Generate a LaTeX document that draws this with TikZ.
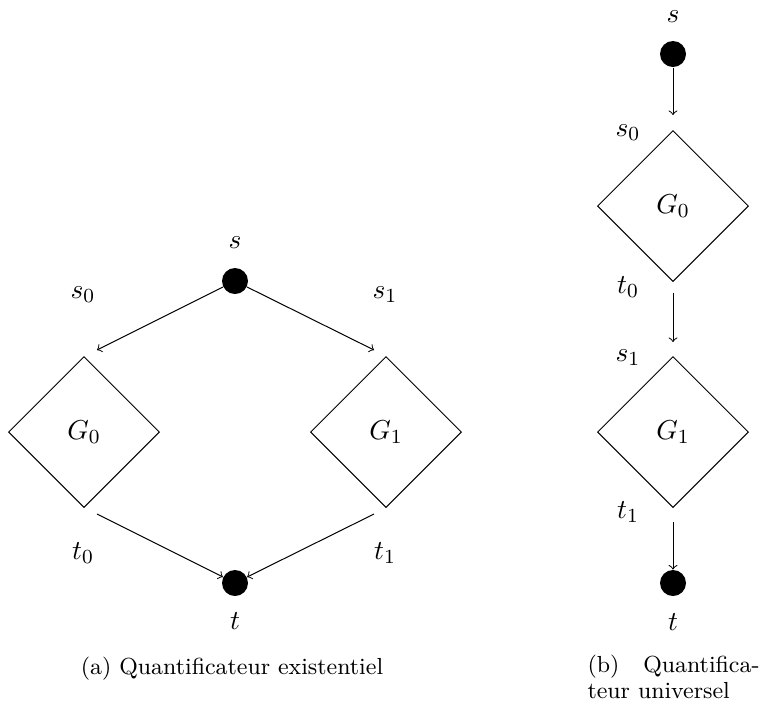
\documentclass[tikz,border=0pt]{standalone}
\usetikzlibrary{shapes.geometric}
\newcommand{\dgfont}{\fontsize{11.4}{13.5}\selectfont}
\newcommand{\cpfont}{\fontsize{9.3}{10.5}\selectfont}
\begin{document}
\begin{tikzpicture}[x=0.4pt,y=-0.4pt,
  dot/.style={circle,fill=black,inner sep=0pt,minimum size=10.4pt},
  gbox/.style={diamond,draw,line width=0.4pt,inner sep=0pt,minimum width=60.4pt,minimum height=60.4pt,font=\dgfont},
  lbl/.style={inner sep=0pt,font=\dgfont},
  arr/.style={->,line width=0.4pt},
  captext/.style={inner sep=0pt,font=\cpfont}]
\useasboundingbox (0,0) rectangle (761,709);
% ---------- (a) existential ----------
\node[dot] (sA) at (235,281) {};
\node[lbl] (sAl) at (235,243) {$s$};
\node[gbox] (G0A) at (84,432) {$G_0$};
\node[gbox] (G1A) at (386,432) {$G_1$};
\node[lbl] (s0A) at (83,295) {$s_0$};
\node[lbl] (s1A) at (385,295) {$s_1$};
\node[lbl] (t0A) at (83,553) {$t_0$};
\node[lbl] (t1A) at (385,553) {$t_1$};
\node[dot] (tA) at (235,583) {};
\node[lbl] (tAl) at (235,621) {$t$};
\coordinate (in0A) at (97,350);
\coordinate (in1A) at (374,350);
\coordinate (out0A) at (97,514);
\coordinate (out1A) at (374,514);
\draw[arr] (sA) -- (in0A);
\draw[arr] (sA) -- (in1A);
\draw[arr] (out0A) -- (tA);
\draw[arr] (out1A) -- (tA);
\node[captext,anchor=base] (capA) at (232,674) {(a) Quantificateur existentiel};
% ---------- (b) universal ----------
\node[dot] (sB) at (673,54) {};
\node[lbl] (sBl) at (673,17) {$s$};
\node[gbox] (G0B) at (673,206) {$G_0$};
\node[gbox] (G1B) at (673,432) {$G_1$};
\node[lbl] (s0B) at (628,133) {$s_0$};
\node[lbl] (t0B) at (628,287) {$t_0$};
\node[lbl] (s1B) at (628,358) {$s_1$};
\node[lbl] (t1B) at (628,512) {$t_1$};
\node[dot] (tB) at (673,583) {};
\node[lbl] (tBl) at (673,622) {$t$};
\coordinate (in0B) at (673,115);
\coordinate (out0B) at (673,293);
\coordinate (in1B) at (673,342);
\coordinate (out1B) at (673,522);
\draw[arr] (sB) -- (in0B);
\draw[arr] (out0B) -- (in1B);
\draw[arr] (out1B) -- (tB);
\node[captext,anchor=base west] (capB1) at (587,672) {\makebox[68.8pt][s]{(b)\hfill Quantifica-}};
\node[captext,anchor=base west] (capB2) at (587,698) {teur universel};
\end{tikzpicture}
\end{document}
